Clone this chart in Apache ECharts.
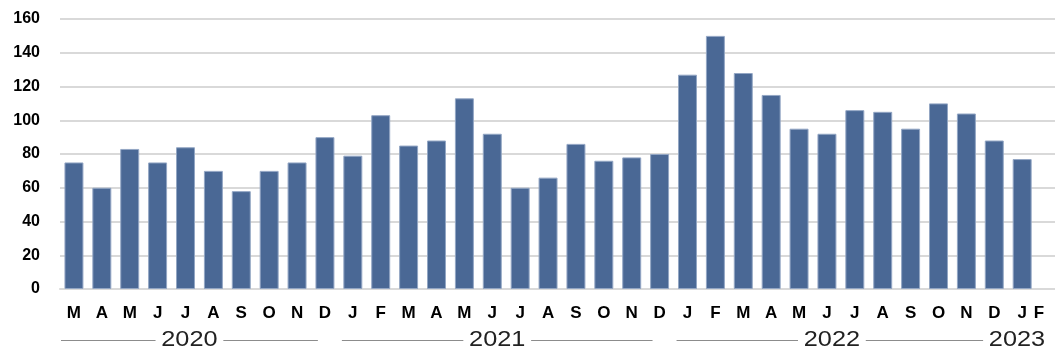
<!DOCTYPE html>
<html>
<head>
<meta charset="utf-8">
<script src="https://cdn.jsdelivr.net/npm/echarts@6/dist/echarts.min.js"></script>
<style>
  html, body { margin: 0; padding: 0; background: #ffffff; }
  #chart { width: 1055px; height: 352px; }
</style>
</head>
<body>
<div id="chart"></div>
<script>
// Monthly values, March 2020 through February 2023
const months = ['M','A','M','J','J','A','S','O','N','D',
                'J','F','M','A','M','J','J','A','S','O','N','D',
                'J','F','M','A','M','J','J','A','S','O','N','D',
                'J','F'];
const values = [75, 60, 83, 75, 84, 70, 58, 70, 75, 90,
                79, 103, 85, 88, 113, 92, 60, 66, 86, 76, 78, 80,
                127, 150, 128, 115, 95, 92, 106, 105, 95, 110, 104, 88,
                77, null];
// Year groups under the month labels: label and number of months in each
const yearLabels = ['2020', '2021', '2022', '2023'];
const yearSpans = [10, 12, 12, 2];
const yTicks = { min: 0, max: 160, interval: 20 };

const FONT = '"Liberation Sans", Arial, Helvetica, sans-serif';
const chart = echarts.init(document.getElementById('chart'), null, { renderer: 'canvas' });

chart.setOption({
  animation: false,
  backgroundColor: '#ffffff',
  // the plot runs a little past the right edge, so the last (empty) month is partly cut
  grid: { left: 60, width: 1004, top: 19, bottom: 63, containLabel: false, outerBoundsMode: 'none' },
  xAxis: {
    type: 'category',
    data: months,
    boundaryGap: true,
    axisLine: { show: true, lineStyle: { color: '#d9d9d9', width: 2 } },
    axisTick: { show: false },
    axisLabel: {
      interval: 0,
      margin: 16,
      color: '#000000',
      fontFamily: FONT,
      fontWeight: 'bold',
      fontSize: 17,
      formatter: (v, i) => i === months.length - 1 ? '{last|' + v + '}' : v,
      rich: {
        last: { padding: [0, 22, 0, 0], color: '#000000', fontFamily: FONT, fontWeight: 'bold', fontSize: 17 }
      }
    }
  },
  yAxis: {
    type: 'value',
    min: yTicks.min,
    max: yTicks.max,
    interval: yTicks.interval,
    axisLine: { show: false },
    axisTick: { show: false },
    splitLine: { lineStyle: { color: '#d9d9d9', width: 2 } },
    axisLabel: {
      margin: 20,
      color: '#000000',
      fontFamily: FONT,
      fontWeight: 'bold',
      fontSize: 16
    }
  },
  series: [{
    type: 'bar',
    data: values,
    barWidth: '68%',
    itemStyle: { color: '#4a6895', borderColor: '#93a6c4', borderWidth: 1 }
  }]
});

// Year rows: a thin rule per group broken by the year text
function drawYears() {
  const first = chart.convertToPixel({ xAxisIndex: 0 }, 0);
  const second = chart.convertToPixel({ xAxisIndex: 0 }, 1);
  const band = second - first;
  const lineY = 340.5;
  const elements = [];
  let start = 0;
  yearLabels.forEach((label, g) => {
    const end = start + yearSpans[g];
    const x0 = chart.convertToPixel({ xAxisIndex: 0 }, start) - band / 2;
    const x1 = chart.convertToPixel({ xAxisIndex: 0 }, end - 1) + band / 2;
    const ls = x0 + (g === 0 ? 1 : 3);
    const le = x1 - 21;
    let mid = (ls + le) / 2;
    if (mid + 30 > 1047) mid = 1047 - 30;
    if (le - ls > 60) {
      elements.push({
        type: 'line', silent: true,
        shape: { x1: ls, y1: lineY, x2: le, y2: lineY },
        style: { stroke: '#8c8c8c', lineWidth: 1 }
      });
    }
    elements.push({
      type: 'text', silent: true, x: mid, y: 340, z: 10, scaleX: 1.15,
      style: {
        text: label, fill: '#222222', font: '22px ' + FONT,
        align: 'center', verticalAlign: 'middle',
        backgroundColor: '#ffffff', padding: [0, 5]
      }
    });
    start = end;
  });
  chart.setOption({ graphic: elements });
}
drawYears();
</script>
</body>
</html>
